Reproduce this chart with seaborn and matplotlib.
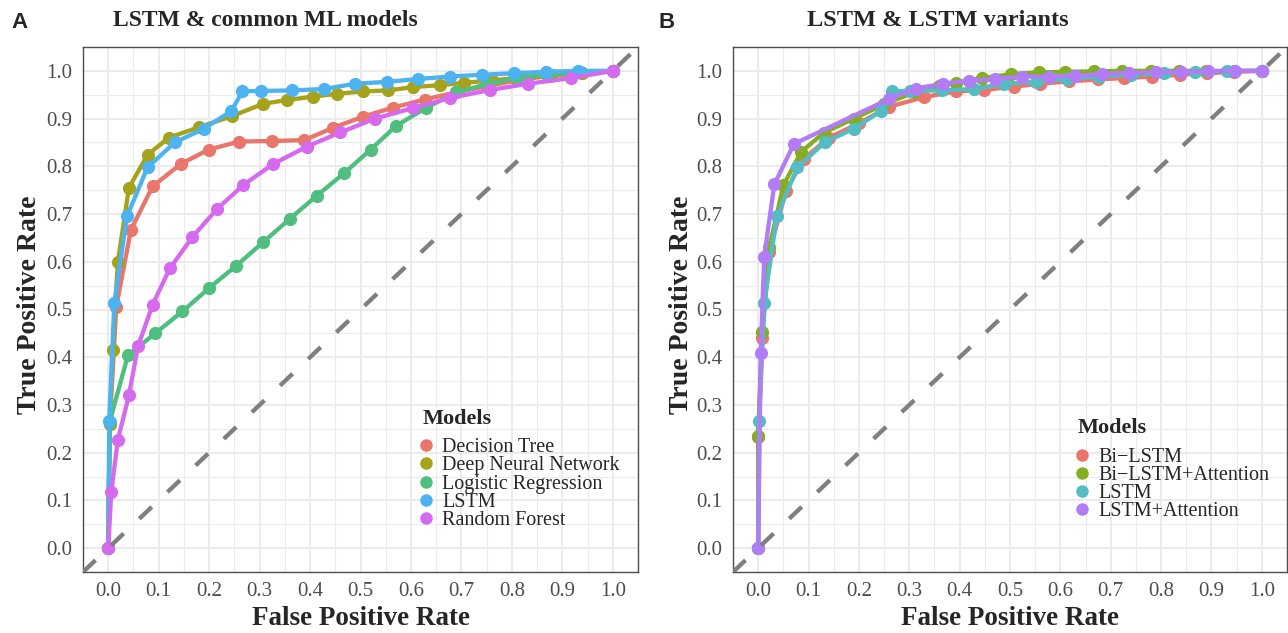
import matplotlib
matplotlib.use("Agg")
import matplotlib.pyplot as plt
import pandas as pd
import seaborn as sns
from matplotlib.lines import Line2D
from matplotlib.ticker import FixedLocator


# ROC points (false positive rate, true positive rate)
dt_fpr = [0, 0.003, 0.016, 0.045, 0.088, 0.144, 0.199, 0.26, 0.325, 0.389, 0.446, 0.505,
          0.564, 0.627, 0.69, 0.75, 0.81, 0.875, 0.94, 1.0]
dt_tpr = [0, 0.26, 0.506, 0.667, 0.758, 0.805, 0.835, 0.852, 0.853, 0.855, 0.881, 0.904,
          0.923, 0.94, 0.955, 0.968, 0.98, 0.99, 0.995, 1.0]

dnn_fpr = [0, 0.003, 0.009, 0.019, 0.041, 0.078, 0.12, 0.18, 0.245, 0.307, 0.355, 0.406,
           0.454, 0.505, 0.554, 0.604, 0.657, 0.706, 0.76, 0.82, 0.88, 0.94, 1.0]
dnn_tpr = [0, 0.26, 0.415, 0.599, 0.755, 0.824, 0.86, 0.882, 0.905, 0.931, 0.939, 0.946,
           0.952, 0.957, 0.959, 0.966, 0.97, 0.975, 0.98, 0.986, 0.991, 0.996, 1.0]

lr_fpr = [0, 0.003, 0.039, 0.093, 0.147, 0.2, 0.254, 0.307, 0.36, 0.413, 0.468, 0.52,
          0.571, 0.629, 0.69, 0.75, 0.81, 0.87, 0.935, 1.0]
lr_tpr = [0, 0.265, 0.404, 0.45, 0.496, 0.545, 0.592, 0.641, 0.69, 0.738, 0.786, 0.835,
          0.885, 0.922, 0.955, 0.972, 0.985, 0.992, 0.997, 1.0]

lstm_fpr = [0, 0.002, 0.012, 0.037, 0.078, 0.132, 0.19, 0.244, 0.266, 0.302, 0.364, 0.428,
            0.489, 0.552, 0.614, 0.677, 0.74, 0.805, 0.867, 0.931, 1.0]
lstm_tpr = [0, 0.267, 0.513, 0.695, 0.798, 0.85, 0.879, 0.916, 0.957, 0.958, 0.959, 0.962,
            0.973, 0.977, 0.983, 0.988, 0.992, 0.995, 0.998, 1.0, 1.0]

rf_fpr = [0, 0.006, 0.019, 0.041, 0.059, 0.088, 0.122, 0.167, 0.216, 0.268, 0.327, 0.393,
          0.46, 0.529, 0.604, 0.677, 0.757, 0.832, 0.918, 1.0]
rf_tpr = [0, 0.117, 0.227, 0.32, 0.423, 0.51, 0.586, 0.652, 0.711, 0.761, 0.805, 0.841,
          0.871, 0.9, 0.922, 0.943, 0.96, 0.973, 0.985, 1.0]

bilstm_fpr = [0, 0.0, 0.008, 0.022, 0.055, 0.09, 0.14, 0.2, 0.26, 0.33, 0.392, 0.448,
              0.508, 0.56, 0.617, 0.674, 0.727, 0.782, 0.838, 0.891, 0.945, 1.0]
bilstm_tpr = [0, 0.232, 0.44, 0.62, 0.748, 0.815, 0.86, 0.89, 0.925, 0.945, 0.957, 0.96,
              0.967, 0.973, 0.978, 0.982, 0.985, 0.988, 0.992, 0.995, 0.998, 1.0]

bilstm_att_fpr = [0, 0.0, 0.008, 0.022, 0.05, 0.085, 0.13, 0.19, 0.25, 0.31, 0.36, 0.392,
                  0.445, 0.502, 0.557, 0.61, 0.667, 0.722, 0.779, 0.835, 0.89, 0.945, 1.0]
bilstm_att_tpr = [0, 0.236, 0.452, 0.63, 0.76, 0.83, 0.87, 0.9, 0.93, 0.955, 0.968, 0.975,
                  0.985, 0.993, 0.997, 0.998, 0.999, 1.0, 1.0, 1.0, 1.0, 1.0, 1.0]

lstm_att_fpr = [0, 0.005, 0.012, 0.032, 0.071, 0.26, 0.313, 0.366, 0.418, 0.471, 0.524,
                0.577, 0.63, 0.683, 0.736, 0.789, 0.84, 0.893, 0.946, 1.0]
lstm_att_tpr = [0, 0.408, 0.611, 0.762, 0.847, 0.941, 0.963, 0.973, 0.979, 0.983, 0.988,
                0.988, 0.99, 0.993, 0.996, 0.997, 0.998, 0.999, 1.0, 1.0]

models_a = ["Decision Tree", "Deep Neural Network", "Logistic Regression", "LSTM", "Random Forest"]
curves_a = [(dt_fpr, dt_tpr), (dnn_fpr, dnn_tpr), (lr_fpr, lr_tpr),
            (lstm_fpr, lstm_tpr), (rf_fpr, rf_tpr)]
colors_a = ["#E9756B", "#A5A21C", "#4FBE7E", "#4DB2F0", "#D66AEF"]

models_b = ["Bi\u2212LSTM", "Bi\u2212LSTM+Attention", "LSTM", "LSTM+Attention"]
curves_b = [(bilstm_fpr, bilstm_tpr), (bilstm_att_fpr, bilstm_att_tpr),
            (lstm_fpr, lstm_tpr), (lstm_att_fpr, lstm_att_tpr)]
colors_b = ["#EA756C", "#83AE22", "#55BCC4", "#B27CF6"]

ticks = [0.0, 0.1, 0.2, 0.3, 0.4, 0.5, 0.6, 0.7, 0.8, 0.9, 1.0]
tick_labels = ["0.0", "0.1", "0.2", "0.3", "0.4", "0.5", "0.6", "0.7", "0.8", "0.9", "1.0"]
minor_ticks = [-0.05, 0.05, 0.15, 0.25, 0.35, 0.45, 0.55, 0.65, 0.75, 0.85, 0.95, 1.05]

W, H = 1288, 633


def long_df(models, curves):
    rows = []
    for name, (fpr, tpr) in zip(models, curves):
        for x, y in zip(fpr, tpr):
            rows.append({"model": name, "fpr": x, "tpr": y})
    return pd.DataFrame(rows)


def draw_panel(ax, models, curves, colors, leg_xy, title_xy, ylab_x):
    df = long_df(models, curves)
    sns.lineplot(data=df, x="fpr", y="tpr", hue="model", hue_order=models,
                 palette=colors, estimator=None, sort=False, lw=3.1,
                 marker="o", markersize=9.5, markeredgewidth=0, legend=False, ax=ax)
    # chance line
    ax.plot([-0.05, 1.05], [-0.05, 1.05], color="#7F7F7F", lw=3.1,
            linestyle=(0, (4.0, 5.0)), dash_capstyle="butt", zorder=5)

    ax.set_xlim(-0.05, 1.05)
    ax.set_ylim(-0.05, 1.05)
    for axis in (ax.xaxis, ax.yaxis):
        axis.set_major_locator(FixedLocator(ticks))
        axis.set_minor_locator(FixedLocator(minor_ticks))
    ax.set_xticklabels(tick_labels)
    ax.set_yticklabels(tick_labels)
    ax.grid(True, which="major", color="#EBEBEB", lw=1.4, zorder=0)
    ax.grid(True, which="minor", color="#EBEBEB", lw=0.8, zorder=0)
    ax.set_axisbelow(True)
    ax.tick_params(which="major", length=4.5, width=1.2, color="#333333",
                   labelsize=15, labelcolor="#4D4D4D")
    ax.tick_params(axis="x", which="major", pad=2.5)
    ax.tick_params(axis="y", which="major", pad=3)
    ax.tick_params(which="minor", length=0)
    for sp in ax.spines.values():
        sp.set_color("#4D4D4D")
        sp.set_linewidth(1.0)

    ax.set_xlabel("False Positive Rate", fontsize=19.5, fontweight="bold", va="center")
    ax.xaxis.set_label_coords(0.5, (572 - 618.5) / 525)
    ax.set_ylabel("True Positive Rate", fontsize=20, fontweight="bold",
                  va="center", ha="center")
    ax.yaxis.set_label_coords(ylab_x, 0.51)

    handles = [Line2D([], [], marker="o", ls="", color=c, markersize=9,
                      markeredgewidth=0) for c in colors]
    ax.legend(handles, models, loc="center left", bbox_to_anchor=leg_xy,
              frameon=False, fontsize=14.5, handlelength=0.8, handletextpad=0.4,
              labelspacing=-0.04, borderpad=0, borderaxespad=0)
    ax.text(title_xy[0], title_xy[1], "Models", transform=ax.transAxes,
            ha="left", va="center", fontsize=16, fontweight="bold")
    return ax


sns.set_style("white")
plt.rcParams["font.family"] = ["Liberation Serif", "DejaVu Serif"]

fig = plt.figure(figsize=(W / 100, H / 100), dpi=100)
ax_a = fig.add_axes([83 / W, 61 / H, 555 / W, 525 / H])
ax_b = fig.add_axes([733 / W, 61 / H, 554 / W, 525 / H])

draw_panel(ax_a, models_a, curves_a, colors_a,
           leg_xy=((418 - 83) / 555, (572 - 484) / 525),
           title_xy=((423 - 83) / 555, (572 - 419) / 525),
           ylab_x=(30 - 83) / 555)
draw_panel(ax_b, models_b, curves_b, colors_b,
           leg_xy=((1074 - 733) / 554, (572 - 484.5) / 525),
           title_xy=((1078 - 733) / 554, (572 - 428) / 525),
           ylab_x=(681 - 733) / 554)

fig.text(265 / W, 1 - 20 / H, "LSTM & common ML models", ha="center", va="center",
         fontsize=17, fontweight="bold")
fig.text(938 / W, 1 - 20 / H, "LSTM & LSTM variants", ha="center", va="center",
         fontsize=17.5, fontweight="bold")
fig.text(20 / W, 1 - 22 / H, "A", ha="center", va="center", fontsize=16,
         fontweight="bold", family=["Liberation Sans", "DejaVu Sans"])
fig.text(667 / W, 1 - 22 / H, "B", ha="center", va="center", fontsize=16,
         fontweight="bold", family=["Liberation Sans", "DejaVu Sans"])

fig.savefig("out.png", dpi=100)
